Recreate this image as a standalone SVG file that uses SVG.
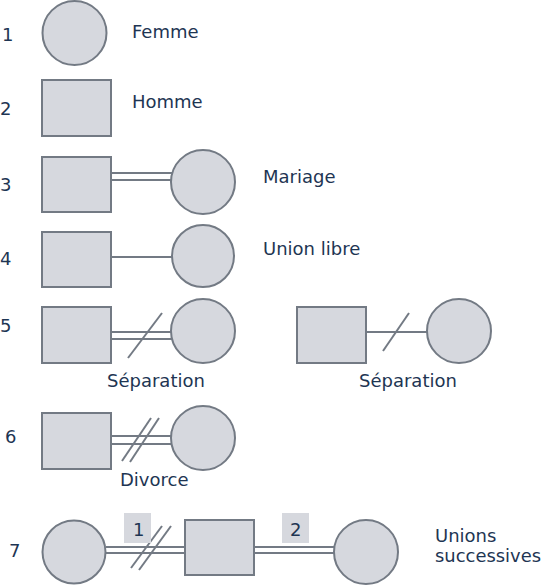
<svg xmlns="http://www.w3.org/2000/svg" width="542" height="585" viewBox="0 0 542 585">
<style>
.n{fill:#d6d8de;stroke:#737a84;stroke-width:2}
.l{stroke:#737a84;stroke-width:2;fill:none}
.t{font-family:"DejaVu Sans",sans-serif;font-size:18px;fill:#1e3553}
.b{fill:#d6d8de}
</style>
<rect width="542" height="585" fill="#ffffff"/>
<g id="connectors">
<line class="l" x1="111" y1="173" x2="172" y2="173"/>
<line class="l" x1="111" y1="180" x2="172" y2="180"/>
<line class="l" x1="111" y1="257" x2="172" y2="257"/>
<line class="l" x1="111" y1="332" x2="172" y2="332"/>
<line class="l" x1="111" y1="339" x2="172" y2="339"/>
<line class="l" x1="128" y1="358" x2="162" y2="313"/>
<line class="l" x1="366" y1="332" x2="428" y2="332"/>
<line class="l" x1="383" y1="351" x2="409" y2="313"/>
<line class="l" x1="111" y1="436" x2="172" y2="436"/>
<line class="l" x1="111" y1="444" x2="172" y2="444"/>
<line class="l" x1="122" y1="461" x2="151" y2="418"/>
<line class="l" x1="130" y1="462" x2="159" y2="418"/>
<line class="l" x1="106" y1="547" x2="185" y2="547"/>
<line class="l" x1="106" y1="553" x2="185" y2="553"/>
<line class="l" x1="131" y1="568" x2="162" y2="526"/>
<line class="l" x1="139" y1="570" x2="171" y2="526"/>
<line class="l" x1="254" y1="547" x2="335" y2="547"/>
<line class="l" x1="254" y1="553" x2="335" y2="553"/>
</g>
<g id="row1">
<text class="t" x="2" y="41">1</text>
<circle class="n" cx="74.5" cy="33" r="32"/>
<text class="t" x="132" y="38">Femme</text>
</g>
<g id="row2">
<text class="t" x="0" y="115">2</text>
<rect class="n" x="42" y="80" width="69" height="56"/>
<text class="t" x="132" y="108">Homme</text>
</g>
<g id="row3">
<text class="t" x="0" y="191">3</text>
<rect class="n" x="42" y="157" width="69" height="55"/>
<circle class="n" cx="203" cy="182" r="32"/>
<text class="t" x="263" y="183">Mariage</text>
</g>
<g id="row4">
<text class="t" x="0" y="265">4</text>
<rect class="n" x="42" y="232" width="69" height="55"/>
<circle class="n" cx="203" cy="256" r="31"/>
<text class="t" x="263" y="255">Union libre</text>
</g>
<g id="row5">
<text class="t" x="0" y="332">5</text>
<rect class="n" x="42" y="307" width="69" height="56"/>
<circle class="n" cx="203" cy="331" r="32"/>
<text class="t" x="107" y="387">Séparation</text>
</g>
<g id="row5b">
<rect class="n" x="297" y="307" width="69" height="56"/>
<circle class="n" cx="459" cy="331" r="32"/>
<text class="t" x="359" y="387">Séparation</text>
</g>
<g id="row6">
<text class="t" x="5" y="443">6</text>
<rect class="n" x="42" y="413" width="69" height="56"/>
<circle class="n" cx="203" cy="438" r="32"/>
<text class="t" x="120" y="486">Divorce</text>
</g>
<g id="row7">
<text class="t" x="9" y="557">7</text>
<circle class="n" cx="74" cy="552" r="31.5"/>
<rect class="b" x="124" y="513" width="27" height="30"/>
<text class="t" x="133" y="536">1</text>
<rect class="n" x="185" y="520" width="69" height="55"/>
<rect class="b" x="282" y="513" width="27" height="30"/>
<text class="t" x="290" y="536">2</text>
<circle class="n" cx="366" cy="552" r="32"/>
<text class="t" x="435" y="542">Unions</text>
<text class="t" x="435" y="562" textLength="106" lengthAdjust="spacingAndGlyphs">successives</text>
</g>
</svg>
